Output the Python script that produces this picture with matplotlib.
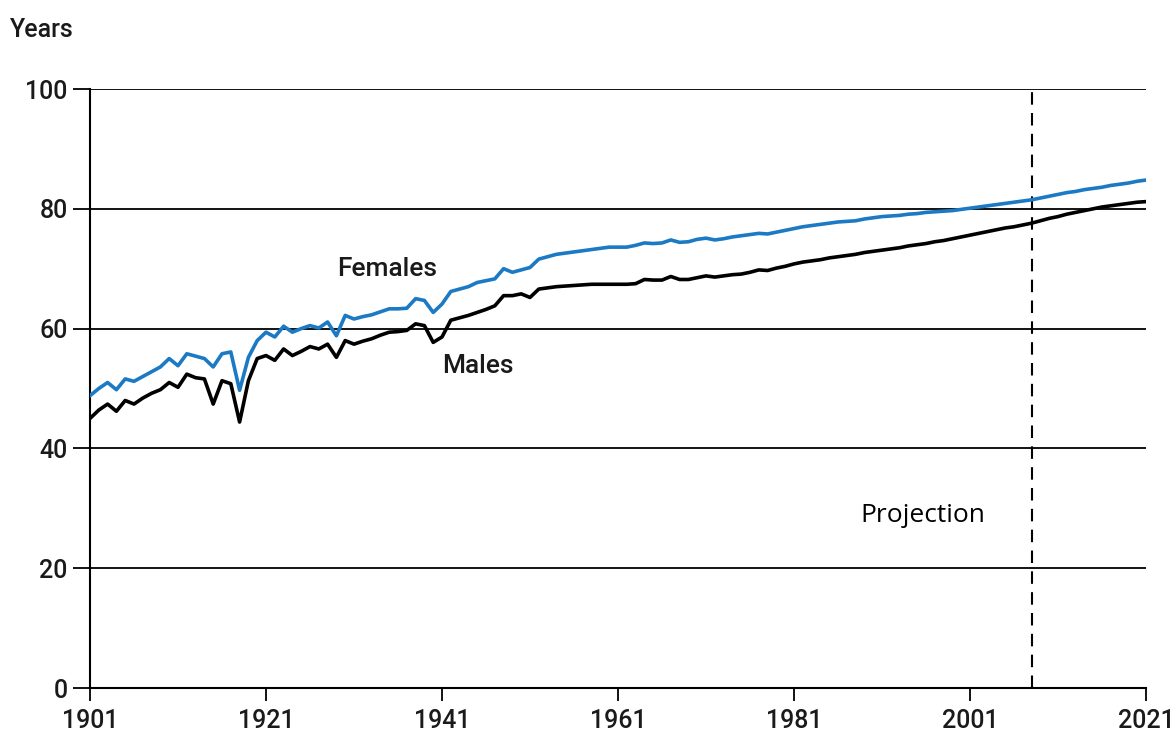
import numpy as np
import matplotlib.pyplot as plt

years = np.arange(1901, 2022)

females = [
    48.8, 50.0, 51.0, 49.8, 51.6, 51.2, 52.0, 52.8, 53.6, 55.0,
    53.8, 55.8, 55.4, 55.0, 53.6, 55.8, 56.1, 49.7, 55.2, 58.0,
    59.4, 58.6, 60.4, 59.4, 60.0, 60.5, 60.1, 61.1, 58.8, 62.2,
    61.6, 62.0, 62.3, 62.8, 63.3, 63.3, 63.4, 65.0, 64.7, 62.7,
    64.1, 66.2, 66.6, 67.0, 67.7, 68.0, 68.3, 70.0, 69.4, 69.8,
    70.2, 71.6, 72.0, 72.4, 72.6, 72.8, 73.0, 73.2, 73.4, 73.6,
    73.6, 73.6, 73.9, 74.3, 74.2, 74.3, 74.8, 74.4, 74.5, 74.9,
    75.1, 74.8, 75.0, 75.3, 75.5, 75.7, 75.9, 75.8, 76.1, 76.4,
    76.7, 77.0, 77.2, 77.4, 77.6, 77.8, 77.9, 78.0, 78.3, 78.5,
    78.7, 78.8, 78.9, 79.1, 79.2, 79.4, 79.5, 79.6, 79.7, 79.9,
    80.1, 80.3, 80.5, 80.7, 80.9, 81.1, 81.3, 81.5, 81.8, 82.1,
    82.4, 82.7, 82.9, 83.2, 83.4, 83.6, 83.9, 84.1, 84.3, 84.6,
    84.8,
]

males = [
    45.0, 46.4, 47.4, 46.2, 48.0, 47.4, 48.4, 49.2, 49.8, 51.0,
    50.2, 52.4, 51.8, 51.6, 47.4, 51.3, 50.8, 44.4, 51.3, 55.0,
    55.5, 54.7, 56.6, 55.5, 56.2, 57.0, 56.6, 57.4, 55.2, 58.0,
    57.4, 57.9, 58.3, 58.9, 59.4, 59.5, 59.7, 60.8, 60.5, 57.7,
    58.6, 61.4, 61.8, 62.2, 62.7, 63.2, 63.8, 65.5, 65.5, 65.8,
    65.2, 66.6, 66.8, 67.0, 67.1, 67.2, 67.3, 67.4, 67.4, 67.4,
    67.4, 67.4, 67.5, 68.2, 68.1, 68.1, 68.7, 68.2, 68.2, 68.5,
    68.8, 68.6, 68.8, 69.0, 69.1, 69.4, 69.8, 69.7, 70.1, 70.4,
    70.8, 71.1, 71.3, 71.5, 71.8, 72.0, 72.2, 72.4, 72.7, 72.9,
    73.1, 73.3, 73.5, 73.8, 74.0, 74.2, 74.5, 74.7, 75.0, 75.3,
    75.6, 75.9, 76.2, 76.5, 76.8, 77.0, 77.3, 77.6, 78.0, 78.4,
    78.7, 79.1, 79.4, 79.7, 80.0, 80.3, 80.5, 80.7, 80.9, 81.1,
    81.2,
]

projection_year = 2008
x_ticks = [1901, 1921, 1941, 1961, 1981, 2001, 2021]
y_ticks = [0, 20, 40, 60, 80, 100]

plt.rcParams['font.family'] = ['Roboto', 'DejaVu Sans']
txt_color = '#1a1a1a'

fig = plt.figure(figsize=(11.76, 7.40), dpi=100)
ax = fig.add_axes([90 / 1176, 1 - 688 / 740, (1146 - 90) / 1176, (688 - 89) / 740])

# horizontal grid lines
for y in y_ticks[1:]:
    ax.axhline(y, color='black', lw=1.3, zorder=1)

ax.plot(years, females, color='#1c7ac4', lw=2.6, zorder=3)
ax.plot(years, males, color='black', lw=2.6, zorder=3)

ax.axvline(projection_year, color='black', lw=1.5, ls=(0, (6, 4)), zorder=2)

ax.text(1929.1, 70, 'Females', fontsize=19, va='center', ha='left',
        color=txt_color, fontweight='medium')
ax.text(1941, 53.7, 'Males', fontsize=19, va='center', ha='left',
        color=txt_color, fontweight='medium')
ax.text(1988.5, 28.8, 'Projection', fontsize=19, va='center', ha='left',
        family=['Open Sans', 'DejaVu Sans'])
fig.text(10 / 1176, 1 - 30 / 740, 'Years', fontsize=18, va='center', ha='left',
         color=txt_color, fontweight='medium')

ax.set_xlim(1901, 2021)
ax.set_ylim(0, 100)
ax.set_xticks(x_ticks)
ax.set_yticks(y_ticks)
ax.tick_params(axis='y', direction='out', length=12, width=1.3, pad=4, labelsize=18,
               labelcolor=txt_color)
ax.tick_params(axis='x', direction='out', length=9, width=1.3, pad=6, labelsize=18,
               labelcolor=txt_color)
for lab in ax.get_xticklabels() + ax.get_yticklabels():
    lab.set_fontweight('medium')

for side in ['top', 'right']:
    ax.spines[side].set_visible(False)
for side in ['left', 'bottom']:
    ax.spines[side].set_linewidth(1.5)

fig.savefig('out.png', dpi=100)
